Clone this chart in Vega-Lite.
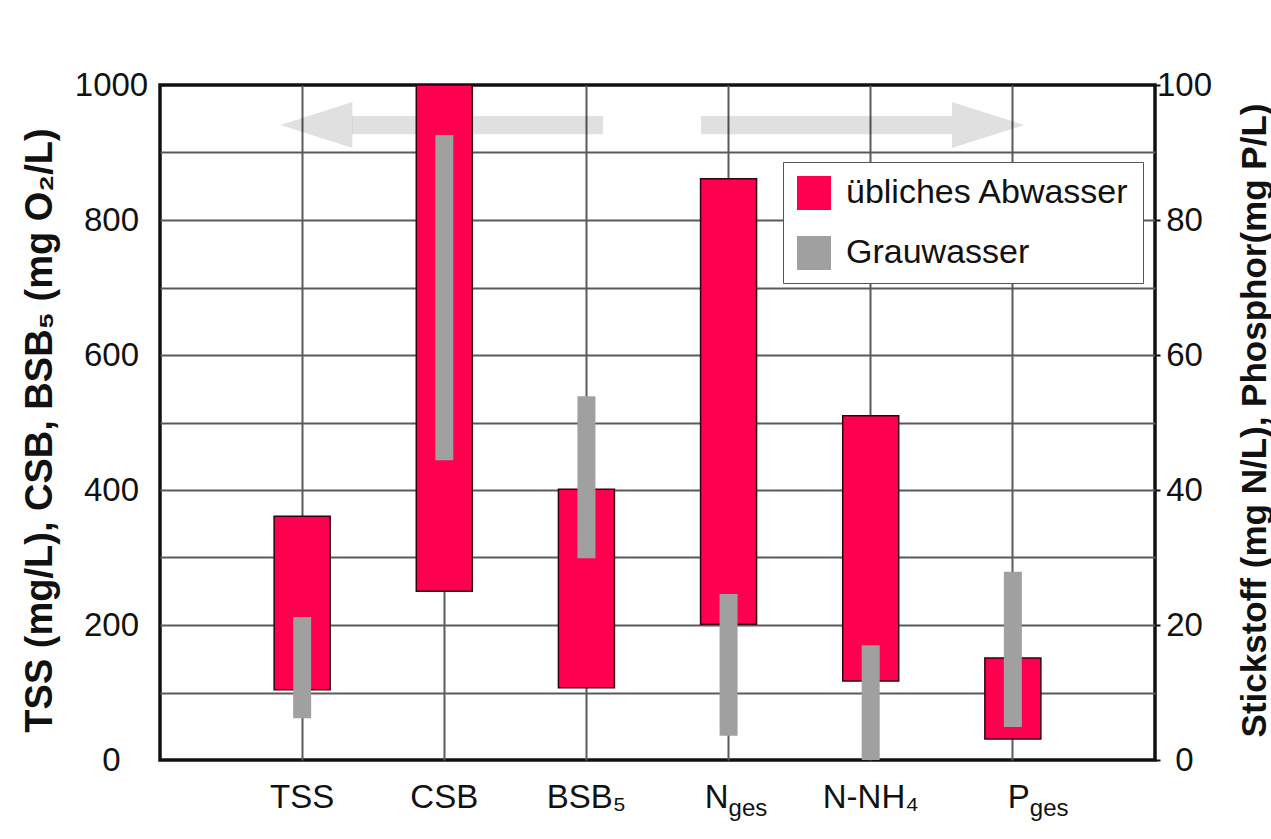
{
  "$schema": "https://vega.github.io/schema/vega-lite/v6.json",
  "width": 995,
  "height": 675,
  "autosize": {"type": "none"},
  "padding": {"left": 160, "top": 85, "right": 116, "bottom": 79},
  "background": "white",
  "config": {
    "font": "Liberation Sans",
    "view": {"stroke": "#111111", "strokeWidth": 3.5},
    "axis": {"labelColor": "#111111", "titleColor": "#111111", "labelFont": "Liberation Sans", "titleFont": "Liberation Sans"},
    "legend": {"labelFont": "Liberation Sans"}
  },
  "datasets": {
    "werte": [
      {"kategorie": "TSS", "art": "übliches Abwasser", "achse": "links", "von": 104, "bis": 361},
      {"kategorie": "CSB", "art": "übliches Abwasser", "achse": "links", "von": 250, "bis": 1000},
      {"kategorie": "BSB5", "art": "übliches Abwasser", "achse": "links", "von": 107, "bis": 401},
      {"kategorie": "Nges", "art": "übliches Abwasser", "achse": "rechts", "von": 20.1, "bis": 86.1},
      {"kategorie": "N-NH4", "art": "übliches Abwasser", "achse": "rechts", "von": 11.7, "bis": 51},
      {"kategorie": "Pges", "art": "übliches Abwasser", "achse": "rechts", "von": 3.1, "bis": 15.1},
      {"kategorie": "TSS", "art": "Grauwasser", "achse": "links", "von": 62, "bis": 212},
      {"kategorie": "CSB", "art": "Grauwasser", "achse": "links", "von": 444, "bis": 926},
      {"kategorie": "BSB5", "art": "Grauwasser", "achse": "links", "von": 299, "bis": 539},
      {"kategorie": "Nges", "art": "Grauwasser", "achse": "rechts", "von": 3.6, "bis": 24.6},
      {"kategorie": "N-NH4", "art": "Grauwasser", "achse": "rechts", "von": 0, "bis": 17},
      {"kategorie": "Pges", "art": "Grauwasser", "achse": "rechts", "von": 4.9, "bis": 27.9}
    ],
    "indizes": [
      {"kategorie": "Nges", "index": "ges"},
      {"kategorie": "Pges", "index": "ges"}
    ],
    "pfeile": [
      {"richtung": "links", "spitze": 1.10, "schaft_von": 1.351, "schaft_bis": 3.117},
      {"richtung": "rechts", "spitze": 5.825, "schaft_von": 3.806, "schaft_bis": 5.572}
    ]
  },
  "layer": [
    {
      "data": {"name": "pfeile"},
      "layer": [
        {
          "mark": {"type": "rect", "color": "black", "opacity": 0.12},
          "encoding": {
            "x": {"field": "schaft_von", "type": "quantitative", "scale": {"domain": [0, 7], "nice": false, "zero": false}, "axis": null},
            "x2": {"field": "schaft_bis"},
            "y": {"datum": 927, "type": "quantitative", "scale": {"domain": [0, 1000], "nice": false}, "axis": null},
            "y2": {"datum": 954}
          }
        },
        {
          "mark": {"type": "point", "filled": true, "color": "black", "opacity": 0.12, "size": 5184, "strokeWidth": 0},
          "encoding": {
            "x": {"field": "spitze", "type": "quantitative"},
            "y": {"datum": 940.7, "type": "quantitative"},
            "shape": {"field": "richtung", "type": "nominal", "legend": null,
              "scale": {"domain": ["links", "rechts"], "range": ["M-1,0L1,-0.64L1,0.64Z", "M1,0L-1,-0.64L-1,0.64Z"]}}
          }
        }
      ]
    },
    {
      "data": {"name": "werte"},
      "layer": [
        {
          "layer": [
            {
              "transform": [{"filter": "datum.achse === 'links' && datum.art === 'übliches Abwasser'"}],
              "mark": {"type": "bar", "width": 56, "stroke": "#330011", "strokeWidth": 1.5},
              "encoding": {
                "x": {"field": "kategorie", "type": "nominal", "title": null,
                  "scale": {"domain": ["TSS", "CSB", "BSB5", "Nges", "N-NH4", "Pges"], "paddingInner": 0, "paddingOuter": 0.5},
                  "axis": {
                    "orient": "bottom",
                    "title": null, "bandPosition": 0.5, "grid": true, "gridColor": "#5a5a5a", "gridWidth": 2,
                    "ticks": false, "tickSize": 0, "domain": false, "labelAngle": 0,
                    "labelFontSize": 33, "labelPadding": 21, "labelBaseline": "top",
                    "labelExpr": "datum.value === 'BSB5' ? 'BSB₅' : datum.value === 'N-NH4' ? 'N-NH₄' : datum.value === 'Nges' ? 'N' : datum.value === 'Pges' ? 'P' : datum.value",
                    "labelAlign": {"condition": {"test": "datum.value === 'Nges' || datum.value === 'Pges'", "value": "right"}, "value": "center"},
                    "labelOffset": {"condition": {"test": "datum.value === 'Pges'", "value": 17}, "value": 0}
                  }
                },
                "y": {"field": "von", "type": "quantitative", "title": "TSS (mg/L), CSB, BSB₅ (mg O₂/L)",
                  "scale": {"domain": [0, 1000], "nice": false},
                  "axis": {
                    "orient": "left", "values": [0, 100, 200, 300, 400, 500, 600, 700, 800, 900, 1000],
                    "labelExpr": "datum.value % 200 === 0 ? datum.label : ''",
                    "format": "d",
                    "grid": true, "gridColor": "#5a5a5a", "gridWidth": 2,
                    "gridOpacity": {"condition": {"test": "datum.value === 0 || datum.value === 1000", "value": 0}, "value": 1},
                    "ticks": false, "tickSize": 0, "domain": false,
                    "labelFontSize": 33, "labelAlign": "center", "labelPadding": 49, "labelBaseline": "middle",
                    "titleFontSize": 38, "titleFontWeight": "bold", "titleAngle": 270,
                    "titleX": -120, "titleY": 345, "titleAlign": "center", "titleBaseline": "middle"
                  }
                },
                "y2": {"field": "bis"},
                "fill": {"field": "art", "type": "nominal", "legend": null,
                  "scale": {"domain": ["Grauwasser", "übliches Abwasser"], "range": ["#a0a0a0", "#ff0050"]}}
              }
            },
            {
              "transform": [{"filter": "datum.achse === 'links' && datum.art === 'Grauwasser'"}],
              "mark": {"type": "bar", "width": 18},
              "encoding": {
                "x": {"field": "kategorie", "type": "nominal", "title": null,
                  "scale": {"domain": ["TSS", "CSB", "BSB5", "Nges", "N-NH4", "Pges"], "paddingInner": 0, "paddingOuter": 0.5}},
                "y": {"field": "von", "type": "quantitative", "title": "TSS (mg/L), CSB, BSB₅ (mg O₂/L)"},
                "y2": {"field": "bis"},
                "fill": {"field": "art", "type": "nominal", "legend": null}
              }
            },
            {
              "transform": [{"filter": "false"}],
              "mark": {"type": "point", "filled": true, "size": 1156},
              "encoding": {
                "x": {"field": "kategorie", "type": "nominal", "title": null,
                  "scale": {"domain": ["TSS", "CSB", "BSB5", "Nges", "N-NH4", "Pges"], "paddingInner": 0, "paddingOuter": 0.5}},
                "y": {"field": "von", "type": "quantitative", "title": "TSS (mg/L), CSB, BSB₅ (mg O₂/L)"},
                "color": {"field": "art", "type": "nominal",
                  "scale": {"domain": ["übliches Abwasser", "Grauwasser"], "range": ["#ff0050", "#a0a0a0"]},
                  "legend": {
                    "title": null, "orient": "none", "legendX": 623, "legendY": 77,
                    "fillColor": "white", "strokeColor": "#555555", "padding": 13,
                    "symbolType": "square", "symbolSize": 1156, "symbolOpacity": 1,
                    "labelFontSize": 34, "labelColor": "#111111", "labelOffset": 14, "labelLimit": 500, "rowPadding": 25, "labelBaseline": "middle"
                  }
                }
              }
            },
            {
              "data": {"name": "indizes"},
              "mark": {"type": "text", "align": "left", "baseline": "alphabetic", "fontSize": 24, "color": "#111111", "dy": 56,
                "dx": {"expr": "datum.kategorie === 'Pges' ? 17 : 0"}},
              "encoding": {
                "x": {"field": "kategorie", "type": "nominal", "title": null,
                  "scale": {"domain": ["TSS", "CSB", "BSB5", "Nges", "N-NH4", "Pges"], "paddingInner": 0, "paddingOuter": 0.5}},
                "y": {"datum": 0, "type": "quantitative"},
                "text": {"field": "index"}
              }
            }
          ]
        },
        {
          "layer": [
            {
              "transform": [{"filter": "datum.achse === 'rechts' && datum.art === 'übliches Abwasser'"}],
              "mark": {"type": "bar", "width": 56, "stroke": "#330011", "strokeWidth": 1.5},
              "encoding": {
                "x": {"field": "kategorie", "type": "nominal", "title": null,
                  "scale": {"domain": ["TSS", "CSB", "BSB5", "Nges", "N-NH4", "Pges"], "paddingInner": 0, "paddingOuter": 0.5}},
                "y": {"field": "von", "type": "quantitative", "title": "Stickstoff (mg N/L), Phosphor(mg P/L)",
                  "scale": {"domain": [0, 100], "nice": false},
                  "axis": {
                    "orient": "right", "values": [0, 20, 40, 60, 80, 100], "format": "d",
                    "grid": false, "ticks": true, "tickSize": 5, "tickColor": "#111111", "tickWidth": 2, "domain": false,
                    "labelFontSize": 33, "labelAlign": "center", "labelPadding": 24, "labelBaseline": "middle",
                    "titleFontSize": 35, "titleFontWeight": "bold", "titleAngle": 270,
                    "titleX": 99, "titleY": 335, "titleAlign": "center", "titleBaseline": "middle"
                  }
                },
                "y2": {"field": "bis"},
                "fill": {"field": "art", "type": "nominal", "legend": null}
              }
            },
            {
              "transform": [{"filter": "datum.achse === 'rechts' && datum.art === 'Grauwasser'"}],
              "mark": {"type": "bar", "width": 18},
              "encoding": {
                "x": {"field": "kategorie", "type": "nominal", "title": null,
                  "scale": {"domain": ["TSS", "CSB", "BSB5", "Nges", "N-NH4", "Pges"], "paddingInner": 0, "paddingOuter": 0.5}},
                "y": {"field": "von", "type": "quantitative", "title": "Stickstoff (mg N/L), Phosphor(mg P/L)"},
                "y2": {"field": "bis"},
                "fill": {"field": "art", "type": "nominal", "legend": null}
              }
            }
          ]
        }
      ],
      "resolve": {"scale": {"y": "independent"}, "axis": {"y": "independent"}}
    }
  ],
  "resolve": {"scale": {"x": "independent", "y": "independent"}}
}
